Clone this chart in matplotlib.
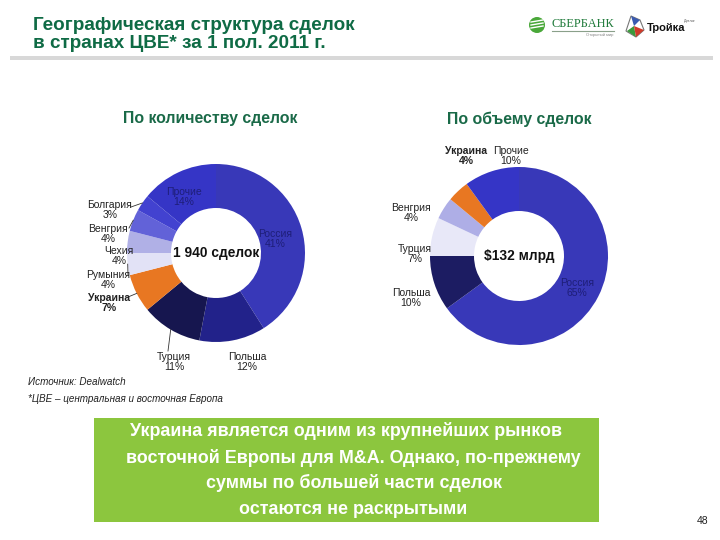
import matplotlib
matplotlib.use("Agg")
import matplotlib.pyplot as plt
from matplotlib.patches import Rectangle, Circle, Polygon
import numpy as np

plt.rcParams['font.family'] = ['Liberation Sans', 'DejaVu Sans']

# ---------------- data ----------------
count_labels = ["Россия", "Польша", "Турция", "Украина", "Румыния", "Чехия", "Венгрия", "Болгария", "Прочие"]
count_values = [41, 12, 11, 7, 4, 4, 4, 3, 14]
count_total_text = "1 940 сделок"

volume_labels = ["Россия", "Польша", "Турция", "Венгрия", "Украина", "Прочие"]
volume_values = [65, 10, 7, 4, 4, 10]
volume_total_text = "$132 млрд"

title_lines = ["Географическая структура сделок", "в странах ЦВЕ* за 1 пол. 2011 г."]
subtitle_left = "По количеству сделок"
subtitle_right = "По объему сделок"
source_lines = ["Источник: Dealwatch", "*ЦВЕ – центральная и восточная Европа"]
box_lines = ["Украина является одним из крупнейших рынков",
             "восточной Европы для M&A. Однако, по-прежнему",
             "суммы по большей части сделок",
             "остаются не раскрытыми"]
page_number = "48"

# ---------------- styles ----------------
colors_count = {"Россия": "#3838b8", "Польша": "#22228a", "Турция": "#16164f", "Украина": "#e87722",
                "Румыния": "#e2e2f6", "Чехия": "#b0b0e6", "Венгрия": "#6262d8", "Болгария": "#4242d0",
                "Прочие": "#3535c6"}
colors_volume = {"Россия": "#3838b8", "Польша": "#1c1c62", "Турция": "#e8e8f8", "Венгрия": "#aeaee6",
                 "Украина": "#e87722", "Прочие": "#3535c6"}
GREEN = "#0f6b45"

W, H = 720, 540
fig = plt.figure(figsize=(7.2, 5.4), dpi=100)
bg = fig.add_axes([0, 0, 1, 1])
bg.set_xlim(0, W)
bg.set_ylim(H, 0)
bg.axis('off')

# title
bg.text(33, 26, title_lines[0], fontsize=13.6, fontweight='bold', color=GREEN, va='center', ha='left')
bg.text(33, 44, title_lines[1], fontsize=13.6, fontweight='bold', color=GREEN, va='center', ha='left')
bg.add_patch(Rectangle((10, 55.5), 703, 4, color="#d8d8d8", lw=0))

# logos
bg.add_patch(Circle((537, 25), 8, color="#4aa83a", lw=0))
for dy in (-3, 0, 3):
    bg.plot([531, 543], [25 + dy, 25 + dy - 2], color="white", lw=1.0)
bg.text(552, 24, "СБЕРБАНК", fontsize=8.8, color="#1f7a3a", family='Liberation Serif', va='center', ha='left')
bg.plot([552, 614], [31, 31], color="#8aa08a", lw=0.8)
bg.text(600, 35, "Открытый мир", fontsize=3, color="#888888", va='center', ha='center')
star = Polygon([[626, 31], [631, 16], [640, 20], [644, 30], [636, 37]], closed=True, fill=False,
               ec="#777777", lw=0.8)
bg.add_patch(star)
bg.add_patch(Polygon([[627, 31], [634, 26], [636, 37]], color="#3a9a3a", lw=0))
bg.add_patch(Polygon([[634, 26], [644, 30], [636, 37]], color="#d03a2a", lw=0))
bg.add_patch(Polygon([[631, 16], [640, 20], [634, 26]], color="#3a5ab0", lw=0))
bg.text(647, 28, "Тройка", fontsize=8, fontweight='bold', color="#111111", va='center', ha='left')
bg.text(684, 21, "Диалог", fontsize=2.5, color="#555555", va='center', ha='left')

# subtitles
bg.text(210, 119, subtitle_left, fontsize=11.4, fontweight='bold', color="#1a6a48", ha='center', va='center')
bg.text(519, 119, subtitle_right, fontsize=11.4, fontweight='bold', color="#1a6a48", ha='center', va='center')


def donut(cx, cy, values, labels, cmap, center_text):
    R, w = 89, 44
    ax = fig.add_axes([(cx - 100) / W, 1 - (cy + 100) / H, 200 / W, 200 / H])
    ax.pie(values, colors=[cmap[l] for l in labels], startangle=90, counterclock=False, radius=R,
           wedgeprops=dict(width=w, linewidth=0))
    ax.set_xlim(-100, 100)
    ax.set_ylim(-100, 100)
    ax.set_aspect('equal')
    ax.axis('off')
    ax.text(0, 0, center_text, fontsize=9.9, fontweight='bold', ha='center', va='center', color="#111111")
    cum = np.cumsum([0] + list(values))
    mids = {}
    for l, a, b in zip(labels, cum[:-1], cum[1:]):
        ang = np.deg2rad(90 - (a + b) / 2 * 360 / sum(values))
        mids[l] = (cx + R * np.cos(ang), cy - R * np.sin(ang))
    return mids


mids_l = donut(216, 253, count_values, count_labels, colors_count, count_total_text)
mids_r = donut(519, 256, volume_values, volume_labels, colors_volume, volume_total_text)

# overlay for labels (on top of donuts)
ov = fig.add_axes([0, 0, 1, 1])
ov.set_xlim(0, W)
ov.set_ylim(H, 0)
ov.axis('off')
ov.patch.set_alpha(0)

lbl_pos_l = {"Россия": (275, 239), "Прочие": (184, 197), "Болгария": (110, 210), "Венгрия": (108, 234),
             "Чехия": (119, 256), "Румыния": (108, 280), "Украина": (109, 303), "Турция": (174, 362),
             "Польша": (247, 362)}
inside_l = {"Россия", "Прочие"}
leader_l = {"Болгария": (131, 207), "Венгрия": (129, 228), "Румыния": (128, 275), "Украина": (128, 297),
            "Турция": (168, 351)}
for lab, val in zip(count_labels, count_values):
    x, y = lbl_pos_l[lab]
    col = "#1e1e78" if lab in inside_l else "#222222"
    fw = 'bold' if lab == "Украина" else 'normal'
    ov.text(x, y, f"{lab}\n{val}%", fontsize=7.5, color=col, ha='center', va='center',
            fontweight=fw, linespacing=1.0)
    if lab in leader_l:
        sx, sy = leader_l[lab]
        ex, ey = mids_l[lab]
        ov.plot([sx, ex], [sy, ey], color="#333333", lw=0.6)

lbl_pos_r = {"Россия": (577, 288), "Прочие": (511, 156), "Украина": (466, 156), "Венгрия": (411, 213),
             "Турция": (415, 254), "Польша": (411, 298)}
for lab, val in zip(volume_labels, volume_values):
    x, y = lbl_pos_r[lab]
    col = "#1e1e78" if lab == "Россия" else "#222222"
    fw = 'bold' if lab == "Украина" else 'normal'
    ov.text(x, y, f"{lab}\n{val}%", fontsize=7.5, color=col, ha='center', va='center',
            fontweight=fw, linespacing=1.0)

# source
ov.text(28, 382, source_lines[0], fontsize=7.1, style='italic', color="#222222", va='center', ha='left')
ov.text(28, 399, source_lines[1], fontsize=7.1, style='italic', color="#222222", va='center', ha='left')

# green box
ov.add_patch(Rectangle((94, 418), 505, 104, color="#8cc63e", lw=0))
box_y = [431, 458, 483, 509]
box_x = [346, 353, 354, 353]
for t, x, y in zip(box_lines, box_x, box_y):
    ov.text(x, y, t, fontsize=12.9, fontweight='bold', color="white", ha='center', va='center')

ov.text(703, 521, page_number, fontsize=7.5, color="#222222", ha='center', va='center')

fig.savefig("out.png", dpi=100)
